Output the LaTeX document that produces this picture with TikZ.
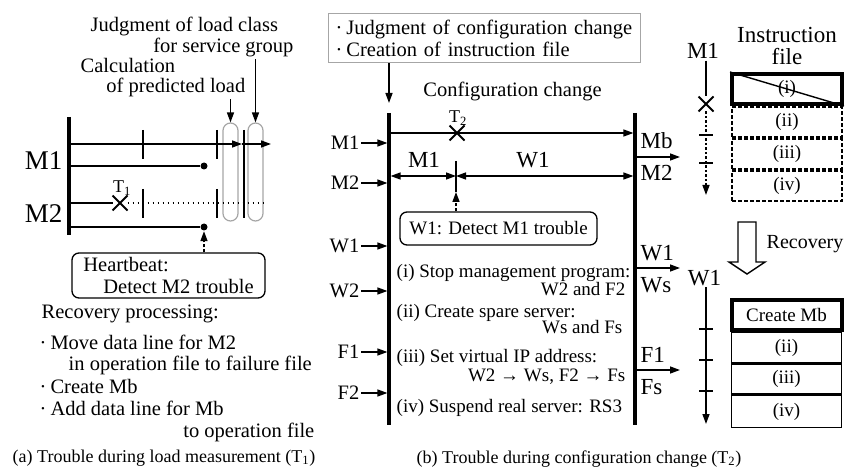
\documentclass[tikz,border=0pt]{standalone}
\usepackage{fontspec}
\setmainfont{Liberation Serif}
\usetikzlibrary{arrows.meta, positioning, shapes.misc}

\newcommand{\txtA}{\fontsize{20.5}{22}\selectfont}
\newcommand{\txtB}{\fontsize{19}{21}\selectfont}
\newcommand{\txtL}{\fontsize{23}{22}\selectfont}
\newcommand{\txtM}{\fontsize{27}{28}\selectfont}
\newcommand{\txtC}{\fontsize{18}{20}\selectfont}
\newcommand{\bul}{·\kern4pt}

\tikzset{
    txta/.style={font=\txtA, inner sep=1pt},
    txtb/.style={font=\txtB, inner sep=1pt},
    txtl/.style={font=\txtL, inner sep=1pt},
    txtm/.style={font=\txtM, inner sep=1pt},
    txtc/.style={font=\txtC, inner sep=1pt},
    timeln/.style={line width=3.3pt},
    tickln/.style={line width=1.5pt},
    dotln/.style={line width=1.5pt, dash pattern=on 1.5pt off 3.5pt},
    dashln/.style={line width=1.5pt, dash pattern=on 3pt off 2pt},
    xmark/.style={draw, cross out, minimum size=13pt, inner sep=0pt, line width=2pt},
    dotnode/.style={circle, fill, inner sep=0pt, minimum size=7pt},
    capsule/.style={draw=gray!70, line width=1.2pt, rounded corners=7.5pt,
        minimum width=15pt, minimum height=98pt},
    rbox/.style={draw, line width=1.3pt, rounded corners=7pt},
    gbox/.style={draw=gray!70, line width=1.2pt},
    filerow/.style={draw, font=\txtB, inner sep=0pt, minimum width=110pt, minimum height=30pt},
    oldrow/.style={filerow, line width=2pt, dash pattern=on 4pt off 2pt},
    newrow/.style={filerow, line width=1.4pt}
}

\begin{document}
\begin{tikzpicture}[x=1pt, y=-1pt, line width=1.4pt, >={Triangle[length=10pt,width=7pt]}]
    \useasboundingbox (0,0) rectangle (845,470);

    % (a) trouble during load measurement
    \node[txta, anchor=base west] (judg1) at (89,32) {Judgment of load class};
    \node[txta, anchor=base east] (judg2) at (295,53) {for service group};
    \node[txta, anchor=base west] (calc1) at (79,73) {Calculation};
    \node[txta, anchor=base east] (calc2) at (247,93) {of predicted load};

    \node[capsule] (capA) at (230.5,172) {};
    \node[capsule] (capB) at (255.5,172) {};
    \draw[->] (calc2.south -| capA) -- (capA.north);
    \draw[->] (judg2.south -| capB) -- (capB.north);

    \coordinate (aTop) at (69,117);
    \coordinate (aBot) at (69,235);
    \draw[timeln] (aTop) -- (aBot);
    \node[txtm, anchor=base east] (aM1) at (64,170) {M1};
    \node[txtm, anchor=base east] (aM2) at (64,223) {M2};

    \coordinate (m1mid) at (242,144);
    \coordinate (m1end) at (271,144);
    \draw[->] (m1mid -| aTop) -- (m1mid);
    \draw[->] (m1mid) -- (m1end);
    \node[dotnode] (d1) at (204,166) {};
    \draw (d1 -| aTop) -- (d1);

    \node[xmark] (t1) at (120,203) {};
    \node[txtc, anchor=base] (t1lbl) at (122,193) {T\textsubscript{1}};
    \draw (t1 -| aTop) -- (t1);
    \coordinate (m2end) at (265,203);
    \draw[dotln] (t1) -- (m2end);
    \node[dotnode] (d2) at (204,227) {};
    \draw (d2 -| aTop) -- (d2);

    \foreach \x in {143,217} {
        \draw[tickln] (\x,130) -- (\x,159);
        \draw[tickln] (\x,189) -- (\x,218);
    }
    \draw[line width=2.2pt] (244,130) -- (244,218);

    \node[rbox, font=\txtA, inner sep=0pt, minimum width=193pt, minimum height=45pt,
        align=left] (hb) at (168.5,275.5)
        {Heartbeat:\\\hspace*{20pt}Detect M2 trouble};
    \draw[->, dashln] (hb.north -| d2) -- ([yshift=-8pt]d2);

    \node[txta, anchor=base west] (rp) at (40,318) {Recovery processing:};
    \node[txta, anchor=base west] (rp1) at (38,349) {\bul Move data line for M2};
    \node[txta, anchor=base west] (rp1b) at (67,370) {in operation file to failure file};
    \node[txta, anchor=base west] (rp2) at (38,393) {\bul Create Mb};
    \node[txta, anchor=base west] (rp3) at (38,415) {\bul Add data line for Mb};
    \node[txta, anchor=base east] (rp3b) at (316,437) {to operation file};
    \node[txtc, anchor=base west] (capa) at (11,462) {(a) Trouble during load measurement (T\textsubscript{1})};

    % (b) trouble during configuration change
    \node[gbox, anchor=north west, font=\txtA, inner sep=0pt, minimum width=312pt,
        minimum height=49pt, text width=298pt, align=left] (jbox) at (328,13)
        {\bul Judgment of configuration change\\\bul Creation of instruction file};

    \coordinate (bLt) at (389,113);
    \coordinate (bLb) at (389,425);
    \coordinate (bRt) at (635,113);
    \coordinate (bRb) at (635,425);
    \draw[->] (jbox.south -| bLt) -- ([yshift=10pt]bLt);
    \node[txta, anchor=base] (cfg) at (512.5,97) {Configuration change};
    \draw[timeln] (bLt) -- (bLb);
    \draw[timeln] (bRt) -- (bRb);

    \node[xmark] (t2) at (457,133) {};
    \node[txtc, anchor=base] (t2lbl) at (458,123) {T\textsubscript{2}};
    \draw[->, shorten >=1.6pt] (t2 -| bLt) -- (t2 -| bRt);

    \coordinate (split) at (456,176);
    \coordinate (splitb) at (456,192);
    \draw[<->, shorten <=1.6pt] (split -| bLt) -- (split);
    \draw[<->, shorten >=1.6pt] (split) -- (split -| bRt);
    \draw[tickln] (456,161) -- (splitb);
    \node[txtl, anchor=base] (spM1) at (424,168) {M1};
    \node[txtl, anchor=base] (spW1) at (533,168) {W1};

    \node[rbox, font=\txtB, minimum width=197pt, minimum height=33pt] (w1box) at (498.5,228.5) {W1: Detect M1 trouble};
    \draw[->, dashln] (w1box.north -| splitb) -- (splitb);

    \foreach \n/\y in {M1/143, M2/183, W1/246, W2/291, F1/352, F2/393} {
        \node[txta, anchor=east] (in\n) at (361,\y) {\n};
        \draw[->, shorten >=1.6pt] (in\n.east) -- (in\n -| bLt);
    }

    \foreach \a/\b/\y in {Mb/M2/157, W1/Ws/268, F1/Fs/370} {
        \coordinate (out\a) at (680,\y);
        \draw[->, shorten <=1.6pt] (out\a -| bRt) -- (out\a);
        \node[txtl, anchor=base west] (up\a) at (639,\y-8) {\a};
        \node[txtl, anchor=base west] (lo\a) at (639,\y+24) {\b};
    }

    \node[txtb, anchor=base west] (s1) at (395,277) {(i) Stop management program:};
    \node[txtb, anchor=base east] (s1b) at (627,295) {W2 and F2};
    \node[txtb, anchor=base west] (s2) at (395,317) {(ii) Create spare server:};
    \node[txtb, anchor=base east] (s2b) at (624,333) {Ws and Fs};
    \node[txtb, anchor=base west] (s3) at (395,362) {(iii) Set virtual IP address:};
    \node[txtb, anchor=base east] (s3b) at (627,381) {W2 → Ws, F2 → Fs};
    \node[txtb, anchor=base west] (s4) at (395,412) {(iv) Suspend real server: RS3};
    \node[txtc, anchor=base west] (capb) at (415,463) {(b) Trouble during configuration change (T\textsubscript{2})};

    % instruction file, before and after recovery
    \node[txtl, align=center] (ifile) at (787,46) {Instruction\\file};
    \node[txtl, anchor=base] (rM1) at (703,59) {M1};
    \node[xmark] (rx) at (706,104) {};
    \coordinate (rEnd1) at (706,195);
    \draw (rM1.south -| rx) -- (rx);
    \draw[->, dash pattern=on 2.5pt off 2pt] (rx) -- (rEnd1);
    \foreach \y in {135,163}
        \draw[tickln] (699,\y) -- (713,\y);

    \node[filerow, line width=4pt] (r1) at (787,89) {(i)};
    \draw (r1.north west) -- (r1.south east);
    \node[oldrow, below=0pt of r1] (r2) {(ii)};
    \node[oldrow, below=0pt of r2] (r3) {(iii)};
    \node[oldrow, below=0pt of r3] (r4) {(iv)};

    \draw (738,222) -- (738,262) -- (729,262) -- (747,274) -- (765,262) -- (756,262) -- (756,222) -- cycle;
    \node[font=\fontsize{20}{22}\selectfont, inner sep=0pt, anchor=base west] (recov) at (766,248) {Recovery};

    \node[txtl, anchor=base] (rW1) at (704.5,285) {W1};
    \coordinate (rEnd2) at (706,424);
    \draw[->] (rW1.south -| rEnd2) -- (rEnd2);
    \foreach \y in {329,360,391}
        \draw[tickln] (699,\y) -- (713,\y);

    \node[newrow, line width=4pt] (c1) at (786.5,315) {Create Mb};
    \node[newrow, below=0pt of c1] (c2) {(ii)};
    \node[newrow, below=0pt of c2] (c3) {(iii)};
    \node[newrow, below=0pt of c3, minimum height=32pt] (c4) {(iv)};
\end{tikzpicture}
\end{document}
